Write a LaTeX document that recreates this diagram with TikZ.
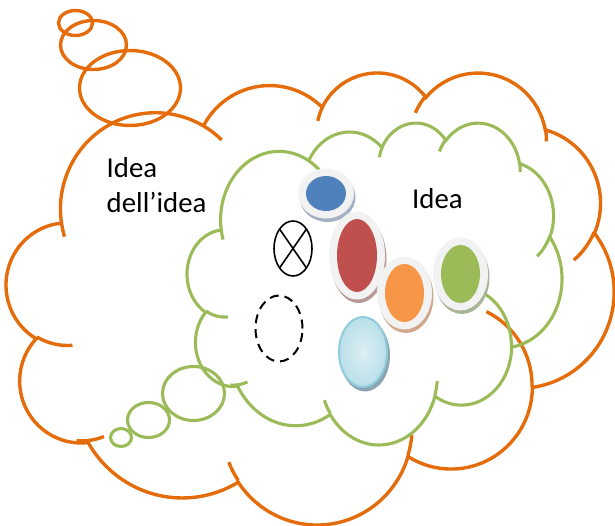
\documentclass[tikz,border=0pt]{standalone}
\usepackage{fontspec}
\setmainfont{Carlito}
\definecolor{cOrange}{HTML}{E46C0A}
\definecolor{cGreen}{HTML}{9BBB59}
\definecolor{ringgray}{HTML}{F2F2F2}
\definecolor{oBlue}{HTML}{4F81BD}
\definecolor{oRed}{HTML}{C0504D}
\definecolor{oOrange}{HTML}{F79646}
\definecolor{oGreen}{HTML}{9BBB59}
\definecolor{sBlue}{HTML}{A3B0C4}
\definecolor{sRed}{HTML}{B89A9A}
\definecolor{sOrange}{HTML}{D2A88C}
\definecolor{sGreen}{HTML}{A8B598}
\definecolor{lbIn}{HTML}{DDEFF4}
\definecolor{lbOut}{HTML}{B9DFE9}
\definecolor{lbLine}{HTML}{8FCBDA}
\definecolor{lbShadow}{HTML}{8CA3B1}
% arc given with DrawingML "visual" angles
\newcommand\carc[4]{arc[x radius=#1, y radius=#2,
  start angle={atan2(#1*sin(#3),#2*cos(#3))},
  delta angle={mod(atan2(#1*sin(#3+#4),#2*cos(#3+#4))-atan2(#1*sin(#3),#2*cos(#3))+720,360)}]}
\newcommand\cloudpath{(3.9,14.37)
  \carc{6.753}{9.19}{-190.4875}{123.7805}
  \carc{5.333}{7.267}{-144.1024}{89.9452}
  \carc{4.365}{5.945}{-145.8079}{99.7230}
  \carc{4.857}{6.595}{-130.9861}{117.2417}
  \carc{5.333}{7.273}{-78.7089}{109.0269}
  \carc{6.775}{9.22}{-46.2673}{130.2690}
  \carc{5.785}{7.867}{0.6250}{114.0333}
  \carc{6.752}{9.215}{22.4516}{115.1726}
  \carc{7.72}{10.543}{66.2426}{75.7110}
  \carc{4.36}{5.918}{-274.9421}{146.7356}
  \carc{4.345}{5.945}{-246.8285}{152.5189} -- cycle
  (4.693,26.177) \carc{4.345}{5.945}{86.742}{26.4295}
  (6.928,34.899) \carc{4.36}{5.918}{73.603}{19.510}
  (16.478,39.09) \carc{6.752}{9.215}{137.6242}{14.0811}
  (28.827,34.751) \carc{6.752}{9.215}{6.4533}{15.9984}
  (34.129,22.954) \carc{5.785}{7.867}{-70.2924}{70.9174}
  (41.798,15.354) \carc{5.333}{7.273}{30.318}{27.7515}
  (38.324,5.426) \carc{4.857}{6.595}{-13.7443}{14.8589}
  (29.078,3.952) \carc{4.857}{6.595}{-149.1815}{18.1954}
  (22.141,4.72) \carc{4.365}{5.945}{-163.4943}{17.6864}
  (14,5.192) \carc{6.753}{9.19}{-66.707}{12.3194}
  (4.127,15.789) \carc{6.753}{9.19}{157.6544}{11.8582}}
\newcommand\gemoval[6]{%
  \fill[#6] (#1pt+1.5pt,-#2pt-3.5pt) ellipse[x radius=#3pt+8pt, y radius=#4pt+7.5pt];
  \fill[ringgray] (#1pt,-#2pt) ellipse[x radius=#3pt+8pt, y radius=#4pt+7.5pt];
  \fill[#5] (#1pt,-#2pt) ellipse[x radius=#3pt, y radius=#4pt];}
\begin{document}
\begin{tikzpicture}[
  orangeline/.style={draw=cOrange, line width=3.4pt},
  greenline/.style={draw=cGreen, line width=3.1pt},
  txt/.style={font=\fontsize{28.8}{34}\selectfont, inner sep=0pt, anchor=base west, text=black},
]
\useasboundingbox (0,0) rectangle (615pt,-526pt);
% orange cloud
\begin{scope}[shift={(6.5pt,-71.5pt)}, xscale=0.49415, yscale=-0.36763]
  \draw[orangeline] \cloudpath;
\end{scope}
\draw[orangeline] (75.5pt,-23pt) ellipse[x radius=17pt, y radius=12.5pt];
\draw[orangeline] (93.5pt,-45pt) ellipse[x radius=33pt, y radius=24.5pt];
\draw[orangeline] (130pt,-88pt) ellipse[x radius=50.5pt, y radius=37.5pt];
% green cloud
\begin{scope}[shift={(187.3pt,-122pt)}, xscale=0.30472, yscale=-0.26184]
  \draw[greenline] \cloudpath;
\end{scope}
\draw[greenline] (121pt,-437.5pt) ellipse[x radius=10.5pt, y radius=9pt];
\draw[greenline] (148.5pt,-420pt) ellipse[x radius=21pt, y radius=17.5pt];
\draw[greenline] (193.5pt,-393.5pt) ellipse[x radius=31pt, y radius=27pt];
% coloured ovals
\gemoval{326}{193.5}{20}{17.5}{oBlue}{sBlue}
\gemoval{357}{255.5}{20}{36.5}{oRed}{sRed}
\gemoval{404.5}{293}{19.5}{29}{oOrange}{sOrange}
\gemoval{460.5}{274}{19.5}{29}{oGreen}{sGreen}
% light blue oval
\fill[lbShadow] (365pt,-355.5pt) ellipse[x radius=25pt, y radius=36pt];
\shade[inner color=lbIn, outer color=lbOut] (363pt,-352pt) ellipse[x radius=24pt, y radius=35pt];
\draw[lbLine, line width=2pt] (363pt,-352pt) ellipse[x radius=24pt, y radius=35pt];
% summing junction
\draw[line width=1.6pt] (293pt,-248.5pt) ellipse[x radius=19pt, y radius=27.5pt];
\draw[line width=1.6pt] (279.6pt,-229.1pt) -- (306.4pt,-267.9pt)
                        (306.4pt,-229.1pt) -- (279.6pt,-267.9pt);
% dashed oval
\draw[line width=2pt, dash pattern=on 9pt off 6pt] (279pt,-328.5pt) ellipse[x radius=23.5pt, y radius=33pt];
% texts
\node[txt] (t1) at (106.5pt,-178pt) {Idea};
\node[txt] (t2) at (106.5pt,-213pt) {dell’idea};
\node[txt] (t3) at (412pt,-209pt) {Idea};
\end{tikzpicture}
\end{document}
